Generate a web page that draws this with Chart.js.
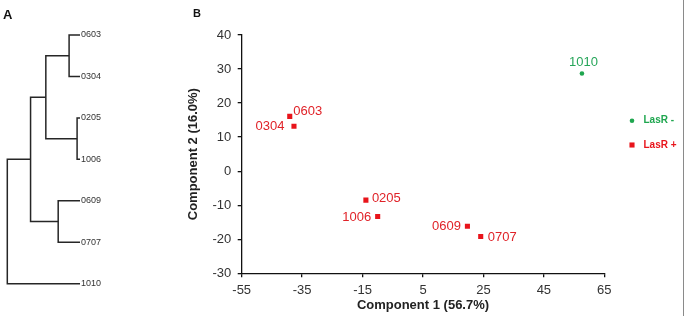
<!DOCTYPE html>
<html><head><meta charset="utf-8">
<script src="https://cdn.jsdelivr.net/npm/chart.js@4"></script>
<style>
html,body{margin:0;padding:0;background:#fff;}
body{width:685px;height:316px;position:relative;overflow:hidden;font-family:'Liberation Sans',Arial,sans-serif;}
#cA{position:absolute;left:0;top:0;}
#cB{position:absolute;left:180px;top:0;}
.lab{position:absolute;font-weight:bold;color:#111;}
#edge{position:absolute;left:683px;top:0;width:1px;height:316px;background:#8a8a8a;}
</style></head><body>
<canvas id="cA" width="180" height="316"></canvas>
<canvas id="cB" width="505" height="316"></canvas>
<div class="lab" style="left:3px;top:8px;font-size:13px;line-height:13px">A</div>
<div class="lab" style="left:193px;top:8px;font-size:11px;line-height:11px">B</div>
<div id="edge"></div>
<script>
// ---- Panel A: dendrogram data ----
const leafNames = ['0603','0304','0205','1006','0609','0707','1010'];
const mergeLeft = [0, 2, 4, 7, 10, 11];
const mergeRight = [1, 3, 5, 8, 9, 6];
const mergeHeight = [0.15, 0.04, 0.30, 0.47, 0.68, 1.00];

// ---- Panel B: PCA scatter data ----
const seriesNames = ['LasR -', 'LasR +'];
const strainsNeg = ['1010'];
const pc1Neg = [57.6];
const pc2Neg = [28.7];
const strainsPos = ['0603','0304','0205','1006','0609','0707'];
const pc1Pos = [-39.1, -37.7, -13.9, -10.0, 19.7, 24.1];
const pc2Pos = [16.1, 13.2, -8.5, -13.3, -16.2, -19.2];
const xTicks = [-55, -35, -15, 5, 25, 45, 65];
const yTicks = [-30, -20, -10, 0, 10, 20, 30, 40];

const FONT = "'Liberation Sans', Arial, sans-serif";

// build dendrogram segments
const nodeY = leafNames.map((_, i) => i);
const nodeH = leafNames.map(() => 0);
const dendroSets = mergeHeight.map((h, k) => {
  const a = mergeLeft[k], b = mergeRight[k];
  const ya = nodeY[a], yb = nodeY[b];
  const ds = {
    data: [{x: nodeH[a], y: ya}, {x: h, y: ya}, {x: h, y: yb}, {x: nodeH[b], y: yb}],
    showLine: true, borderColor: '#262626', borderWidth: 1.5,
    pointRadius: 0, fill: false, clip: false, tension: 0
  };
  nodeY.push((ya + yb) / 2); nodeH.push(h);
  return ds;
});

new Chart(document.getElementById('cA'), {
  type: 'scatter',
  data: {datasets: dendroSets},
  options: {
    responsive: false, animation: false, events: [],
    layout: {padding: {left: 7.3, top: 35, bottom: 32.3, right: 0}},
    plugins: {legend: {display: false}, tooltip: {enabled: false}},
    scales: {
      x: {type: 'linear', min: 0, max: 1, reverse: true, display: false},
      y: {
        type: 'linear', position: 'right', min: 0, max: leafNames.length - 1, reverse: true,
        afterBuildTicks: s => { s.ticks = leafNames.map((_, i) => ({value: i})); },
        ticks: {callback: v => leafNames[v], padding: 1, autoSkip: false,
                font: {family: FONT, size: 9}, color: '#333'},
        grid: {display: false, drawTicks: false},
        border: {display: false},
        afterFit: s => { s.width = 100; }
      }
    }
  }
});

const redC = '#e8141b', greenC = '#1fa64f';
const labelPlace = {
  '0603': {dx: 3.5, dy: -4.5, align: 'left'},
  '0304': {dx: -9.5, dy: 0.5, align: 'right'},
  '0205': {dx: 6, dy: -2, align: 'left'},
  '1006': {dx: -6.5, dy: 1, align: 'right'},
  '0609': {dx: -6.5, dy: 0, align: 'right'},
  '0707': {dx: 7, dy: 0.5, align: 'left'},
  '1010': {dx: 1.5, dy: -11, align: 'center'}
};

const pointLabels = {
  id: 'pointLabels',
  afterDatasetsDraw(chart) {
    const ctx = chart.ctx;
    ctx.save();
    ctx.font = '13px ' + FONT;
    ctx.textBaseline = 'middle';
    chart.data.datasets.forEach((ds, di) => {
      const meta = chart.getDatasetMeta(di);
      meta.data.forEach((el, i) => {
        const name = ds.data[i].name;
        const p = labelPlace[name];
        ctx.fillStyle = ds.textColor;
        ctx.textAlign = p.align;
        ctx.fillText(name, el.x + p.dx, el.y + p.dy);
      });
    });
    ctx.restore();
  }
};

const sideLegend = {
  id: 'sideLegend',
  afterDraw(chart) {
    const ctx = chart.ctx, ca = chart.chartArea;
    const x = ca.right + 27.7;
    const ys = [ca.top + 85.7, ca.top + 110];
    ctx.save();
    ctx.font = 'bold 10px ' + FONT;
    ctx.textBaseline = 'middle';
    ctx.textAlign = 'left';
    chart.data.datasets.forEach((ds, di) => {
      const y = ys[di];
      ctx.fillStyle = ds.backgroundColor;
      if (ds.pointStyle === 'circle') {
        ctx.beginPath(); ctx.arc(x, y, ds.pointRadius, 0, Math.PI * 2); ctx.fill();
      } else {
        const s = ds.pointRadius * Math.SQRT1_2;
        ctx.fillRect(x - s, y - s, 2 * s, 2 * s);
      }
      ctx.fillStyle = ds.legendColor;
      ctx.fillText(ds.label, x + 11.5, y);
    });
    ctx.restore();
  }
};

const axisCommon = {
  grid: {display: true, drawOnChartArea: false, drawTicks: true, tickLength: 4, color: '#111', lineWidth: 1.3},
  border: {display: true, color: '#111', width: 1.3}
};

new Chart(document.getElementById('cB'), {
  type: 'scatter',
  data: {datasets: [
    {label: seriesNames[0], data: pc1Neg.map((x, i) => ({x, y: pc2Neg[i], name: strainsNeg[i]})),
     pointStyle: 'circle', pointRadius: 2.3, backgroundColor: greenC, borderWidth: 0,
     textColor: '#27a65a', legendColor: '#1fa64f'},
    {label: seriesNames[1], data: pc1Pos.map((x, i) => ({x, y: pc2Pos[i], name: strainsPos[i]})),
     pointStyle: 'rect', pointRadius: 3.6, backgroundColor: redC, borderWidth: 0,
     textColor: '#e02228', legendColor: '#e8141b'}
  ]},
  options: {
    responsive: false, animation: false, events: [],
    layout: {padding: {left: 0, top: 35, right: 80.7, bottom: 0}},
    plugins: {legend: {display: false}, tooltip: {enabled: false}},
    scales: {
      x: Object.assign({}, axisCommon, {
        type: 'linear', min: xTicks[0], max: xTicks[xTicks.length - 1],
        afterBuildTicks: s => { s.ticks = xTicks.map(v => ({value: v})); },
        ticks: {font: {family: FONT, size: 13}, color: '#333', padding: 5, autoSkip: false, maxRotation: 0},
        title: {display: true, text: 'Component 1 (56.7%)', color: '#222',
                font: {family: FONT, size: 13, weight: 'bold'}, padding: {top: 0, bottom: 2.7}},
        afterFit: s => { s.height = 42.7; }
      }),
      y: Object.assign({}, axisCommon, {
        type: 'linear', min: yTicks[0], max: yTicks[yTicks.length - 1],
        afterBuildTicks: s => { s.ticks = yTicks.map(v => ({value: v})); },
        ticks: {font: {family: FONT, size: 13}, color: '#333', padding: 6.5, autoSkip: false},
        title: {display: true, text: 'Component 2 (16.0%)', color: '#222',
                font: {family: FONT, size: 13, weight: 'bold'}, padding: {top: 5.5, bottom: 0}},
        afterFit: s => { s.width = 61.7; }
      })
    }
  },
  plugins: [pointLabels, sideLegend]
});
</script>
</body></html>
